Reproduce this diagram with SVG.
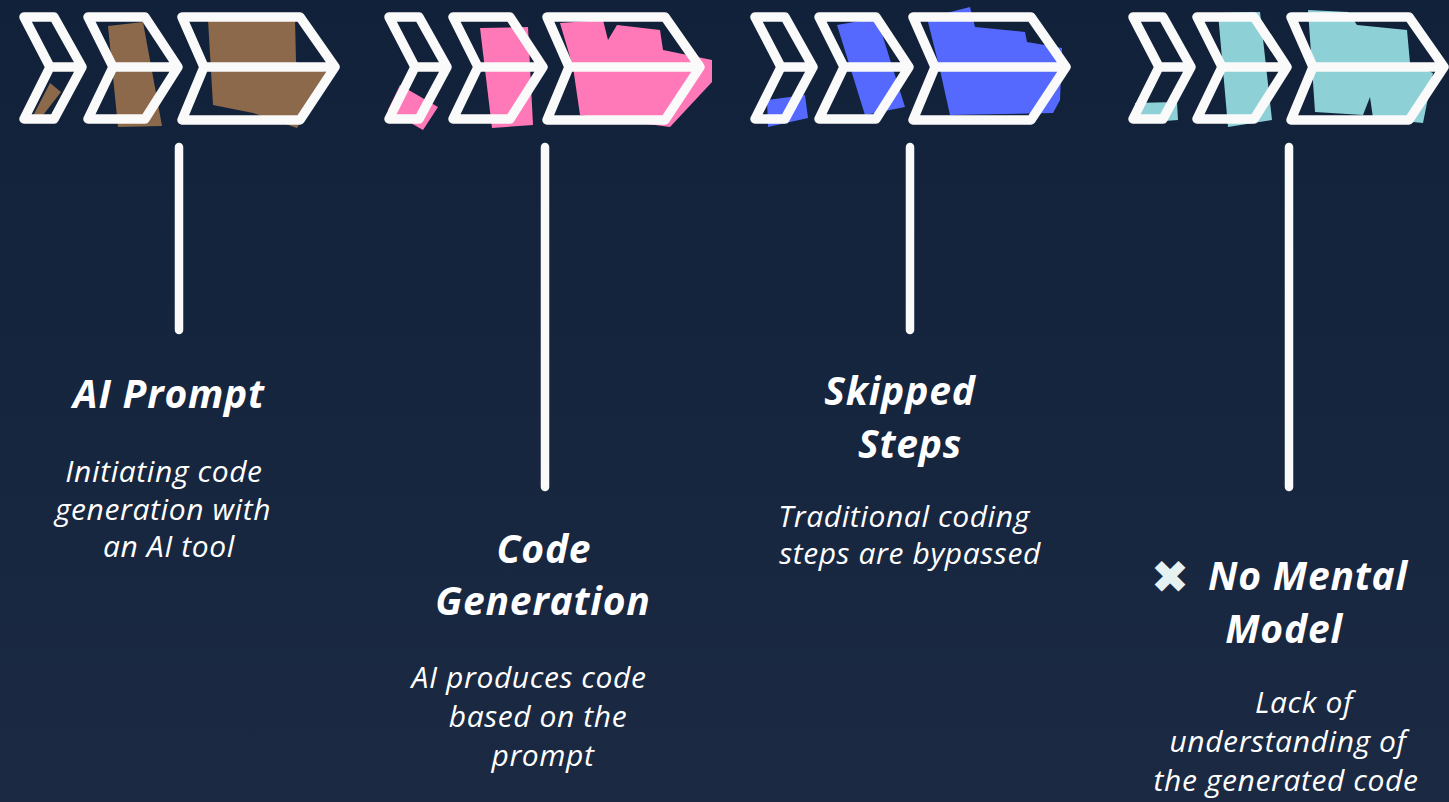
<svg xmlns="http://www.w3.org/2000/svg" width="1449" height="802" viewBox="0 0 1449 802">
  <defs>
    <linearGradient id="bg" x1="0" y1="0" x2="0" y2="1">
      <stop offset="0" stop-color="#11213a"/>
      <stop offset="1" stop-color="#1b2a42"/>
    </linearGradient>
    <!-- three outlined chevrons, each split by a middle bar -->
    <g id="chevrons" class="chev">
      <path d="M24,17 H54 L82,67 L54,119 H24 L50,67 Z M50,67 H82"/>
      <path d="M88,17 H145 L178,67 L145,119 H88 L113,67 Z M113,67 H178"/>
      <path d="M182,17 H300 L335,67 L300,120 H182 L204,67 Z M204,67 H335"/>
    </g>
  </defs>
  <style>
    .chev path { fill: none; stroke: #fafafa; stroke-width: 9.5; stroke-linejoin: round; stroke-linecap: round; }
    .stem { stroke: #fafafa; stroke-width: 8.5; stroke-linecap: round; fill: none; }
    .title { font-family: "Open Sans", "Liberation Sans", sans-serif; font-style: italic; font-weight: 700; font-size: 39px; letter-spacing: 0.8px; fill: #ffffff; text-anchor: middle; }
    .body { font-family: "Open Sans", "Liberation Sans", sans-serif; font-style: italic; font-weight: 400; font-size: 30px; letter-spacing: 0.6px; fill: #ffffff; text-anchor: middle; }
    .mark { font-family: "DejaVu Sans", sans-serif; font-size: 46px; fill: #e6f2f2; text-anchor: middle; }
    .brown { fill: #8b694a; }
    .pink { fill: #ff78b8; }
    .blue { fill: #5569ff; }
    .teal { fill: #8dd0d5; }
  </style>

  <rect width="1449" height="802" fill="url(#bg)"/>

  <!-- step 1 -->
  <g id="step-ai-prompt">
    <g class="brown">
      <polygon points="33,116 50,83 61,92 40,119"/>
      <polygon points="108,26 143,22 162,126 118,127"/>
      <polygon points="208,20 295,18 296,62 328,73 297,128 253,113 213,105"/>
    </g>
    <use href="#chevrons"/>
    <text class="title" x="169" y="408">AI Prompt</text>
    <text class="body" x="164" y="482">Initiating code</text>
    <text class="body" x="163" y="520">generation with</text>
    <text class="body" x="169" y="557">an AI tool</text>
  </g>

  <!-- step 2 -->
  <g id="step-code-generation">
    <g class="pink" transform="translate(365,0)">
      <polygon points="35,85 73,107 58,130 23,110"/>
      <polygon points="115,28 163,27 168,125 127,128"/>
      <polygon points="195,23 238,20 243,40 252,25 295,30 298,50 347,60 347,82 305,127 215,115 208,67"/>
    </g>
    <use href="#chevrons" transform="translate(365,0)"/>
    <text class="title" x="544" y="563">Code</text>
    <text class="title" x="543" y="615">Generation</text>
    <text class="body" x="529" y="688">AI produces code</text>
    <text class="body" x="538" y="727">based on the</text>
    <text class="body" x="543" y="766">prompt</text>
  </g>

  <!-- step 3 -->
  <g id="step-skipped-steps">
    <g class="blue" transform="translate(731,0)">
      <polygon points="36,100 74,95 77,118 37,127"/>
      <polygon points="106,25 146,18 174,107 134,115"/>
      <polygon points="196,18 239,7 244,27 294,32 296,42 331,48 329,100 322,113 219,115 209,70"/>
    </g>
    <use href="#chevrons" transform="translate(731,0)"/>
    <text class="title" x="900" y="405">Skipped</text>
    <text class="title" x="910" y="458">Steps</text>
    <text class="body" x="904" y="527">Traditional coding</text>
    <text class="body" x="910" y="564">steps are bypassed</text>
  </g>

  <!-- step 4 -->
  <g id="step-no-mental-model">
    <g class="teal" transform="translate(1109,0)">
      <polygon points="26,103 68,102 69,120 28,123"/>
      <polygon points="109,13 151,12 163,120 119,127"/>
      <polygon points="199,10 239,12 248,25 298,30 301,63 324,73 314,123 264,118 261,97 254,115 206,112 203,67"/>
    </g>
    <use href="#chevrons" transform="translate(1109,0)"/>
    <text class="mark" x="1170" y="593">✖</text>
    <text class="title" x="1308" y="590">No Mental</text>
    <text class="title" x="1284" y="643">Model</text>
    <text class="body" x="1304" y="713">Lack of</text>
    <text class="body" x="1288" y="752">understanding of</text>
    <text class="body" x="1286" y="791">the generated code</text>
  </g>

  <!-- connectors: stems from each chevron set down to its label -->
  <g id="connectors">
    <line class="stem" x1="179" y1="147" x2="179" y2="330"/>
    <line class="stem" x1="545" y1="147" x2="545" y2="487"/>
    <line class="stem" x1="910" y1="147" x2="910" y2="330"/>
    <line class="stem" x1="1289" y1="147" x2="1289" y2="487"/>
  </g>
</svg>
